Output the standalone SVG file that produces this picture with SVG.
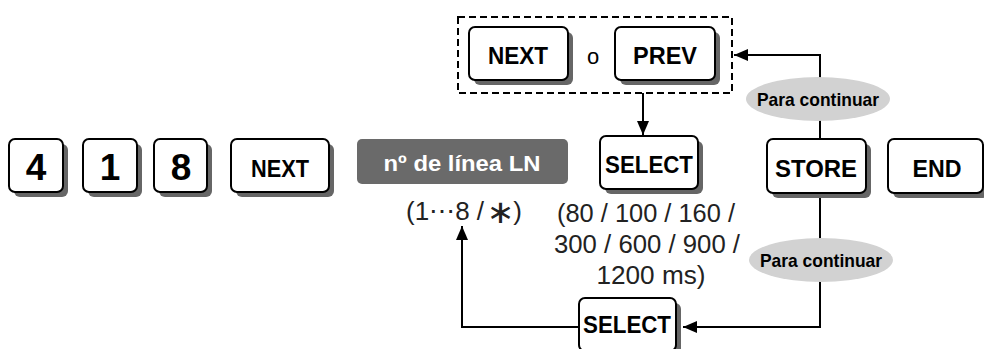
<svg xmlns="http://www.w3.org/2000/svg" width="984" height="349" viewBox="0 0 984 349">
<defs>
<style>
.sh{fill:#666}
.key{fill:#fff;stroke:#000;stroke-width:2}
.kt{font-family:"Liberation Sans",Arial,sans-serif;font-weight:bold;fill:#000;text-anchor:middle}
.dg{font-size:37px}
.wd{font-size:24px}
.tx{font-family:"Liberation Sans",Arial,sans-serif;font-size:26px;fill:#222;text-anchor:middle}
.ln{fill:none;stroke:#000;stroke-width:2}
.el{fill:#d2d2d2}
.et{font-family:"Liberation Sans",Arial,sans-serif;font-weight:bold;font-size:19px;fill:#000;text-anchor:middle}
</style>
<marker id="ah" viewBox="0 0 14 12" refX="14" refY="6" markerWidth="14" markerHeight="12" markerUnits="userSpaceOnUse" orient="auto">
<path d="M0,0 L14,6 L0,12 Z" fill="#000"/>
</marker>
</defs>
<rect width="984" height="349" fill="#fff"/>

<g id="connectors">
<line class="ln" x1="643" y1="93" x2="643" y2="135" marker-end="url(#ah)"/>
<polyline class="ln" points="820,139 820,55 734,55" marker-end="url(#ah)"/>
<polyline class="ln" points="820,193 820,327 683,327" marker-end="url(#ah)"/>
<polyline class="ln" points="579,327 462,327 462,226" marker-end="url(#ah)"/>
</g>

<g id="key-4">
<rect class="sh" x="14" y="144" width="54" height="53" rx="6"/>
<rect class="key" x="9" y="139" width="54" height="53" rx="6"/>
<text class="kt dg" x="36" y="180">4</text>
</g>
<g id="key-1">
<rect class="sh" x="88" y="144" width="54" height="53" rx="6"/>
<rect class="key" x="83" y="139" width="54" height="53" rx="6"/>
<text class="kt dg" x="110" y="180">1</text>
</g>
<g id="key-8">
<rect class="sh" x="159" y="144" width="53" height="53" rx="6"/>
<rect class="key" x="154" y="139" width="53" height="53" rx="6"/>
<text class="kt dg" x="181" y="180">8</text>
</g>
<g id="key-next">
<rect class="sh" x="236" y="144" width="98" height="53" rx="6"/>
<rect class="key" x="231" y="139" width="98" height="53" rx="6"/>
<text class="kt wd" x="280" y="177" textLength="58" lengthAdjust="spacingAndGlyphs">NEXT</text>
</g>

<g id="line-number">
<rect x="357" y="139" width="211" height="45" rx="5" fill="#6a6a6a"/>
<text class="kt" x="462" y="171" font-size="22" style="fill:#fff" textLength="157" lengthAdjust="spacingAndGlyphs">nº de línea LN</text>
<text class="tx" x="464" y="220">(1⋯8 / <tspan font-family="DejaVu Sans, sans-serif" font-size="36" dy="-18" rotate="90">⚹</tspan><tspan dy="18">)</tspan></text>
</g>

<g id="choice">
<rect x="458" y="17" width="274" height="76" fill="none" stroke="#000" stroke-width="2" stroke-dasharray="7,4"/>
<g id="key-next2">
<rect class="sh" x="474" y="32" width="99" height="53" rx="6"/>
<rect class="key" x="469" y="27" width="99" height="53" rx="6"/>
<text class="kt wd" x="518" y="64" textLength="60" lengthAdjust="spacingAndGlyphs">NEXT</text>
</g>
<text x="593" y="64" font-family="Liberation Sans, Arial, sans-serif" font-size="22" text-anchor="middle" fill="#000">o</text>
<g id="key-prev">
<rect class="sh" x="620" y="32" width="100" height="53" rx="6"/>
<rect class="key" x="615" y="27" width="100" height="53" rx="6"/>
<text class="kt wd" x="665" y="64" textLength="64" lengthAdjust="spacingAndGlyphs">PREV</text>
</g>
</g>

<g id="key-select">
<rect class="sh" x="605" y="141" width="98" height="53" rx="6"/>
<rect class="key" x="600" y="136" width="98" height="53" rx="6"/>
<text class="kt wd" x="649" y="173" textLength="88" lengthAdjust="spacingAndGlyphs">SELECT</text>
</g>
<g id="ms-values">
<text class="tx" x="646" y="222" textLength="178" lengthAdjust="spacingAndGlyphs">(80 / 100 / 160 /</text>
<text class="tx" x="647" y="253" textLength="186" lengthAdjust="spacingAndGlyphs">300 / 600 / 900 /</text>
<text class="tx" x="651" y="284" textLength="109" lengthAdjust="spacingAndGlyphs">1200 ms)</text>
</g>

<g id="cont-top">
<ellipse class="el" cx="818" cy="99" rx="72" ry="22"/>
<text class="et" x="818" y="106" textLength="122" lengthAdjust="spacingAndGlyphs">Para continuar</text>
</g>
<g id="cont-bottom">
<ellipse class="el" cx="821" cy="260" rx="72" ry="22"/>
<text class="et" x="821" y="267" textLength="122" lengthAdjust="spacingAndGlyphs">Para continuar</text>
</g>

<g id="key-store">
<rect class="sh" x="772" y="144" width="99" height="54" rx="6"/>
<rect class="key" x="767" y="139" width="99" height="54" rx="6"/>
<text class="kt wd" x="816" y="177" textLength="82" lengthAdjust="spacingAndGlyphs">STORE</text>
</g>
<g id="key-end">
<rect class="sh" x="893" y="144" width="95" height="54" rx="6"/>
<rect class="key" x="888" y="139" width="95" height="54" rx="6"/>
<text class="kt wd" x="937" y="177" textLength="49" lengthAdjust="spacingAndGlyphs">END</text>
</g>

<g id="key-select2">
<rect class="sh" x="584" y="303" width="97" height="53" rx="6"/>
<rect class="key" x="579" y="298" width="97" height="53" rx="6"/>
<text class="kt wd" x="627" y="333" textLength="88" lengthAdjust="spacingAndGlyphs">SELECT</text>
</g>
</svg>
